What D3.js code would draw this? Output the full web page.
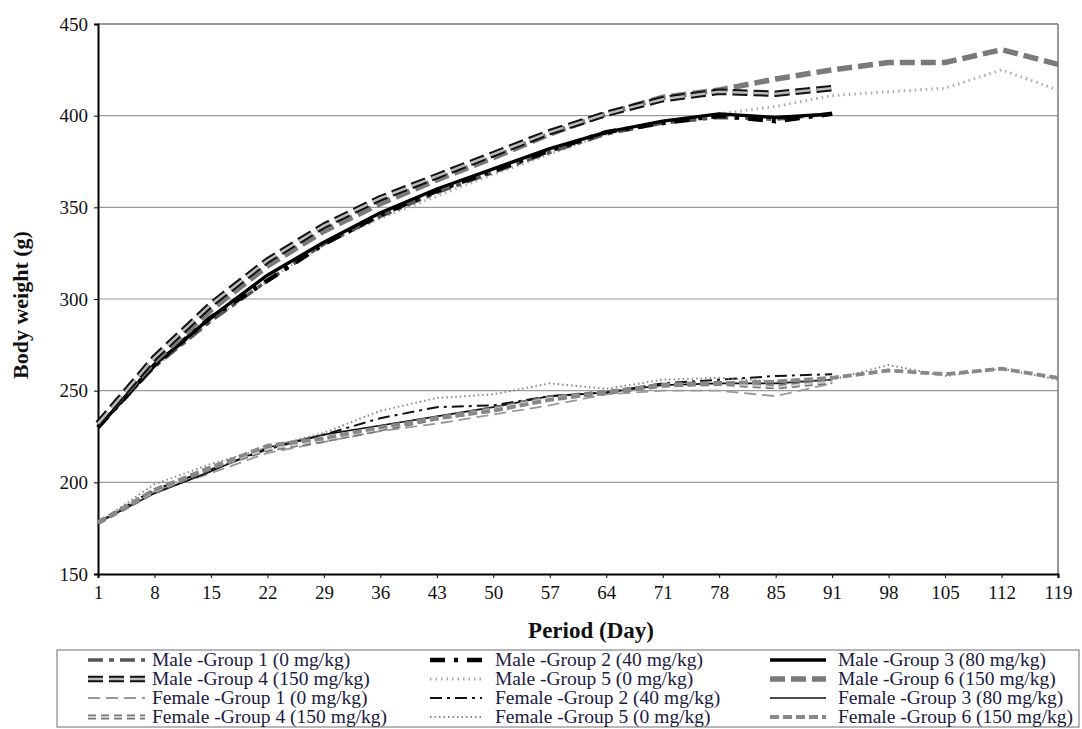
<!DOCTYPE html>
<html><head><meta charset="utf-8">
<script src="https://cdn.jsdelivr.net/npm/d3@7"></script>
<style>body{margin:0;background:#fff}svg{display:block}text{font-family:"Liberation Serif","Times New Roman",serif}</style>
</head><body><svg id="c" width="1082" height="729"></svg>
<script>
const days = ["1","8","15","22","29","36","43","50","57","64","71","78","85","91","98","105","112","119"];
const yTicks = [150,200,250,300,350,400,450];

const male1 = [230,263,288,310,330,345,358,369,380,390,396,399,398,401];
const male2 = [230,264,290,310,330,346,359,370,381,391,396,400,397,401];
const male3 = [230,264,290,313,331,347,360,371,382,391,397,401,399,401];
const male4 = [232,268,297,321,340,355,367,379,391,401,409,413,412,415];
const male5 = [230,263,288,310,330,344,356,368,379,390,397,401,405,411,413,415,425,414];
const male6 = [232,266,294,318,337,352,365,377,390,401,410,414,420,425,429,429,436,428];
const female1 = [178,195,205,216,222,228,232,237,242,248,250,250,247,254];
const female2 = [178,196,207,218,226,235,241,242,247,249,254,256,258,259];
const female3 = [178,194,206,219,226,231,236,241,247,249,253,254,254,256];
const female4 = [178,195,208,218,223,229,235,240,246,249,253,254,252,255];
const female5 = [178,199,210,219,227,239,246,248,254,251,256,257,255,256,264,258,262,256];
const female6 = [178,196,208,220,224,230,235,239,245,249,253,254,255,257,261,259,262,257];

const seriesNames = ["Male -Group 1 (0 mg/kg)","Male -Group 2 (40 mg/kg)","Male -Group 3 (80 mg/kg)",
 "Male -Group 4 (150 mg/kg)","Male -Group 5 (0 mg/kg)","Male -Group 6 (150 mg/kg)",
 "Female -Group 1 (0 mg/kg)","Female -Group 2 (40 mg/kg)","Female -Group 3 (80 mg/kg)",
 "Female -Group 4 (150 mg/kg)","Female -Group 5 (0 mg/kg)","Female -Group 6 (150 mg/kg)"];
const seriesData = [male1,male2,male3,male4,male5,male6,female1,female2,female3,female4,female5,female6];

const styles = [
 [{c:"#555",w:3.4,d:"15,6,5,6"}],
 [{c:"#000",w:4.5,d:"15,9,4,9"}],
 [{c:"#000",w:3.4,d:null}],
 [{c:"#111",w:6.5,d:"15,6"},{c:"#bbb",w:2.5,d:"15,6"}],
 [{c:"#aaa",w:3,d:"1.5,4"}],
 [{c:"#7a7a7a",w:5.5,d:"15,6"}],
 [{c:"#999",w:1.8,d:"12,6"}],
 [{c:"#111",w:2,d:"12,5,3,5"}],
 [{c:"#111",w:1.7,d:null}],
 [{c:"#777",w:5,d:"8,5"},{c:"#ccc",w:2,d:"8,5"}],
 [{c:"#888",w:2,d:"1.5,3"}],
 [{c:"#888",w:3.8,d:"9,4"}]
];
const drawOrder = [6,7,8,9,10,11,4,0,1,2,5,3];

const svg = d3.select("#c");
const L=98, R=1058, T=24, B=574;
const x = d3.scalePoint().domain(days).range([L,R]);
const y = d3.scaleLinear().domain([150,450]).range([B,T]);

svg.append("g").selectAll("line").data(yTicks.filter(v=>v>150&&v<450)).join("line")
 .attr("x1",L).attr("x2",R).attr("y1",d=>y(d)).attr("y2",d=>y(d))
 .attr("stroke","#9a9a9a").attr("stroke-width",1.2);
svg.append("line").attr("x1",L).attr("x2",R).attr("y1",T).attr("y2",T).attr("stroke","#777").attr("stroke-width",1.5);
svg.append("line").attr("x1",R).attr("x2",R).attr("y1",T).attr("y2",B).attr("stroke","#777").attr("stroke-width",1.5);

const xa = svg.append("g").attr("transform",`translate(0,${B})`)
 .call(d3.axisBottom(x).tickSize(4).tickPadding(8));
xa.select(".domain").attr("stroke","#000").attr("stroke-width",2);
xa.selectAll("text").attr("font-size",19).attr("fill","#111");
const ya = svg.append("g").attr("transform",`translate(${L},0)`)
 .call(d3.axisLeft(y).tickValues(yTicks).tickSize(4).tickPadding(6));
ya.select(".domain").attr("stroke","#000").attr("stroke-width",2);
ya.selectAll("text").attr("font-size",19).attr("fill","#111");

svg.append("text").attr("x",591).attr("y",638).attr("text-anchor","middle")
 .attr("font-size",23).attr("font-weight","bold").attr("fill","#111").text("Period (Day)");
svg.append("text").attr("transform","translate(28,305) rotate(-90)").attr("text-anchor","middle")
 .attr("font-size",22).attr("font-weight","bold").attr("fill","#111").text("Body weight (g)");

const line = d3.line().x((d,i)=>x(days[i])).y(d=>y(d));
const plot = svg.append("g");
drawOrder.forEach(k=>{
 styles[k].forEach(s=>{
  plot.append("path").datum(seriesData[k]).attr("d",line).attr("fill","none")
   .attr("stroke",s.c).attr("stroke-width",s.w).attr("stroke-dasharray",s.d)
   .attr("stroke-linejoin","round");
 });
});

svg.append("rect").attr("x",57).attr("y",650).attr("width",1022).attr("height",77)
 .attr("fill","#fff").attr("stroke","#888").attr("stroke-width",1.2);
const colX = [[88,145,152],[430,482,495],[770,826,838]];
const rowY = [660,679,698,717];
const lg = svg.append("g");
seriesNames.forEach((n,k)=>{
 const col=k%3,row=Math.floor(k/3);
 const cy=rowY[row];
 styles[k].forEach(s=>{
  lg.append("line").attr("x1",colX[col][0]).attr("x2",colX[col][1]).attr("y1",cy).attr("y2",cy)
   .attr("stroke",s.c).attr("stroke-width",s.w).attr("stroke-dasharray",s.d);
 });
 lg.append("text").attr("x",colX[col][2]).attr("y",cy+6).attr("font-size",19.5).attr("fill","#1a1a40").text(n);
});
</script></body></html>
